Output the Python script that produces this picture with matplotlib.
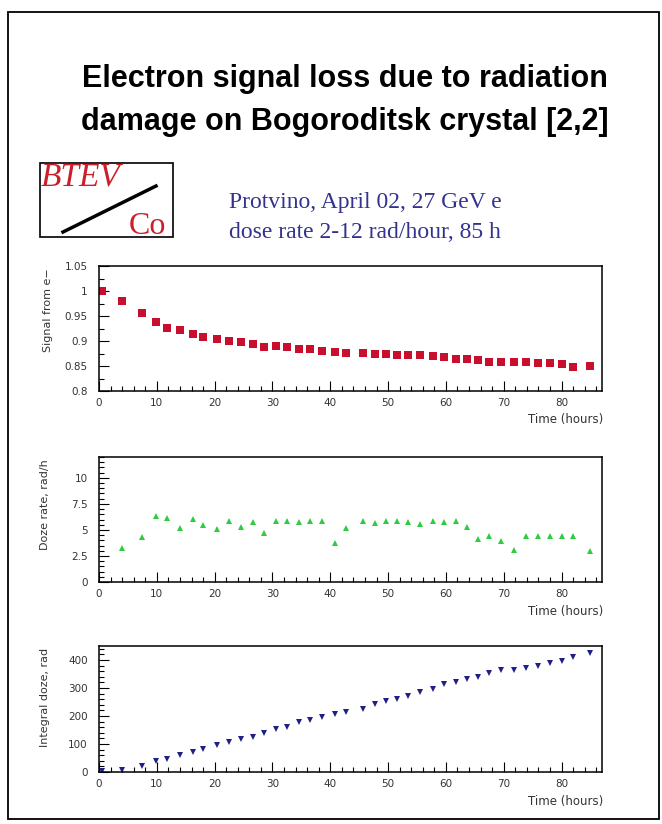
import matplotlib.pyplot as plt
from matplotlib.patches import Rectangle
from matplotlib.lines import Line2D
from matplotlib.ticker import MultipleLocator

# Measurements: time in hours
t_signal = [0.5, 3.9, 7.4, 9.9, 11.8, 14.0, 16.2, 18.0, 20.4, 22.4, 24.5, 26.7, 28.5,
            30.7, 32.6, 34.6, 36.5, 38.5, 40.9, 42.8, 45.6, 47.7, 49.6, 51.5, 53.5,
            55.6, 57.7, 59.7, 61.8, 63.6, 65.5, 67.4, 69.6, 71.8, 73.9, 76.0, 78.0,
            80.0, 82.0, 85.0]
signal = [1.000, 0.980, 0.957, 0.939, 0.927, 0.922, 0.914, 0.908, 0.904, 0.901, 0.898,
          0.894, 0.889, 0.890, 0.888, 0.884, 0.884, 0.881, 0.879, 0.877, 0.876, 0.875,
          0.874, 0.873, 0.873, 0.872, 0.871, 0.869, 0.865, 0.864, 0.863, 0.859, 0.859,
          0.859, 0.858, 0.856, 0.857, 0.855, 0.849, 0.850]

t_rate = t_signal[1:]
dose_rate = [3.3, 4.3, 6.3, 6.1, 5.2, 6.05, 5.5, 5.1, 5.9, 5.25, 5.8, 4.7, 5.9, 5.9,
             5.8, 5.9, 5.9, 3.7, 5.2, 5.9, 5.7, 5.9, 5.9, 5.8, 5.6, 5.9, 5.8, 5.9,
             5.3, 4.1, 4.4, 3.9, 3.1, 4.4, 4.4, 4.4, 4.4, 4.4, 3.0]

t_dose = t_signal
integral_dose = [5, 8, 23, 39, 48, 59, 72, 83, 96, 108, 117, 125, 139, 153, 161, 177,
                 186, 198, 207, 213, 225, 243, 252, 261, 272, 286, 298, 313, 322, 331,
                 340, 354, 364, 366, 372, 378, 388, 398, 410, 424]

W, H = 662, 824
fig = plt.figure(figsize=(W / 100, H / 100), dpi=100)


def fx(px):
    return px / W


def fy(py):
    return 1 - py / H


# outer frame
fig.patches.append(Rectangle((fx(8), fy(819)), fx(651), 807 / H, transform=fig.transFigure,
                             fill=False, edgecolor='black', linewidth=1.3))

fig.text(fx(345), fy(87), 'Electron signal loss due to radiation', ha='center',
         va='baseline', fontsize=22, fontweight='bold', family='Liberation Sans')
fig.text(fx(345), fy(130), 'damage on Bogoroditsk crystal [2,2]', ha='center',
         va='baseline', fontsize=22, fontweight='bold', family='Liberation Sans')

# BTeV logo
fig.patches.append(Rectangle((fx(40), fy(237)), fx(133), 74 / H, transform=fig.transFigure,
                             fill=False, edgecolor='black', linewidth=1.2))
fig.lines.append(Line2D([fx(63), fx(156)], [fy(232), fy(186)], transform=fig.transFigure,
                        color='black', linewidth=2.5))
fig.text(fx(41), fy(186), 'BTEV', ha='left', va='baseline', fontsize=24, style='italic',
         color='#cc1f2a', family='Liberation Serif')
fig.text(fx(129), fy(234), 'Co', ha='left', va='baseline', fontsize=23,
         color='#cc1f2a', family='Liberation Serif')

fig.text(fx(229), fy(208), 'Protvino, April 02, 27 GeV e', ha='left', va='baseline',
         fontsize=17, color='#33338f', family='Liberation Serif')
fig.text(fx(229), fy(238), 'dose rate 2-12 rad/hour, 85 h', ha='left', va='baseline',
         fontsize=17, color='#33338f', family='Liberation Serif')


def panel(top, bottom, ylim, major, minor, ylabel, label_x):
    ax = fig.add_axes([fx(99), fy(bottom), fx(602 - 99), (bottom - top) / H])
    ax.set_xlim(0, 87)
    ax.set_ylim(*ylim)
    ax.xaxis.set_major_locator(MultipleLocator(10))
    ax.xaxis.set_minor_locator(MultipleLocator(2))
    ax.yaxis.set_major_locator(MultipleLocator(major))
    ax.yaxis.set_minor_locator(MultipleLocator(minor))
    ax.tick_params(which='both', direction='in', top=False, right=False,
                   labelsize=7.5, labelcolor='#333333')
    ax.tick_params(axis='y', pad=8)
    ax.tick_params(axis='x', pad=5)
    ax.tick_params(which='major', length=7, width=0.8)
    ax.tick_params(which='minor', length=3.5, width=0.8)
    for s in ax.spines.values():
        s.set_linewidth(1.1)
    fig.text(fx(label_x), fy(top + 2), ylabel, rotation=90, ha='center', va='top',
             fontsize=8, color='#333333')
    fig.text(fx(603), fy(bottom + 29), 'Time (hours)', ha='right', va='center',
             fontsize=8.5, color='#333333')
    return ax


ax1 = panel(266, 391, (0.8, 1.05), 0.05, 0.025, 'Signal from e\u2212', 48)
ax1.yaxis.set_major_formatter(lambda v, p: f'{v:g}')
ax1.plot(t_signal, signal, 's', color='#c8102e', markersize=5.5, markeredgewidth=0)

ax2 = panel(457, 582, (0, 12), 2.5, 0.5, 'Doze rate, rad/h', 45)
ax2.yaxis.set_major_formatter(lambda v, p: f'{v:g}')
ax2.plot(t_rate, dose_rate, '^', color='#2ecc40', markersize=4.5, markeredgewidth=0)

ax3 = panel(646, 772, (0, 450), 100, 20, 'Integral doze, rad', 45)
ax3.plot(t_dose, integral_dose, 'v', color='#1f1f85', markersize=5, markeredgewidth=0)

fig.savefig('out.png', dpi=100)
